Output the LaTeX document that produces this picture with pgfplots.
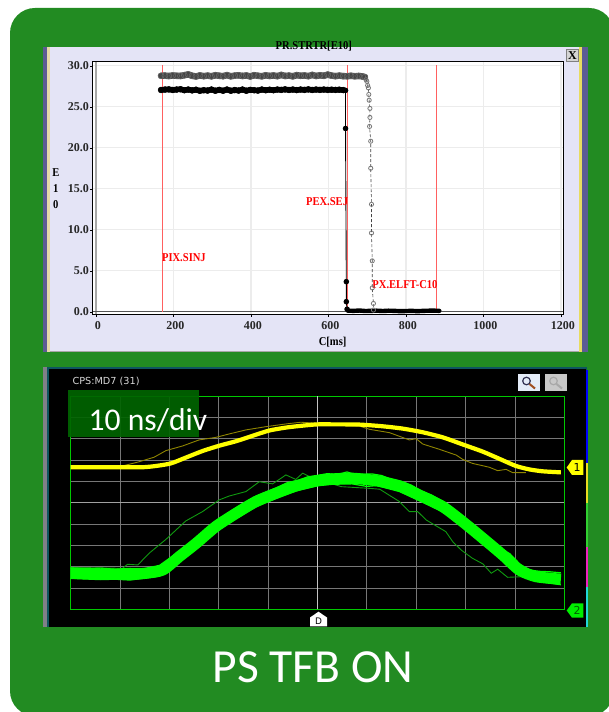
\documentclass[border=0pt]{standalone}
\usepackage{fontspec}
\setmainfont{Carlito}
\newfontfamily\plotfont{Liberation Serif}
\newfontfamily\labelfont[FakeStretch=0.88]{Liberation Serif}
\newfontfamily\scopefont{DejaVu Sans}
\usepackage{pgfplots}
\pgfplotsset{compat=1.18}
\definecolor{slidegreen}{HTML}{228B22}
\definecolor{lav}{HTML}{E4E4F6}
\definecolor{boxgreen}{HTML}{006400}
\definecolor{plotred}{HTML}{FF6060}
\definecolor{bandgrey}{HTML}{444444}
\definecolor{thinyellow}{HTML}{8F8500}
\definecolor{thingreen}{HTML}{109A10}
\definecolor{scopegrid}{HTML}{777777}
\definecolor{stripe}{HTML}{5C5C94}
\definecolor{cream}{HTML}{E6D9A8}
\definecolor{creamy}{HTML}{E8DC60}
\definecolor{closebtn}{HTML}{D4D4D4}
\definecolor{greystrip}{HTML}{808088}
\definecolor{teal1}{HTML}{0E5560}
\definecolor{stripy}{HTML}{E8DC20}
\definecolor{stripg}{HTML}{30D030}
\definecolor{stripm}{HTML}{F020C0}
\definecolor{stripc}{HTML}{20D8D8}
\definecolor{gridlight}{HTML}{ECECEC}
\definecolor{zerov}{HTML}{A8A8A8}
\definecolor{zeroh}{HTML}{555555}
\definecolor{markA}{HTML}{666666}
\definecolor{markdrop}{HTML}{777777}
\definecolor{scopebox}{HTML}{00C800}
\definecolor{centerline}{HTML}{C4C4C4}
\definecolor{midline}{HTML}{A0A0A0}
\definecolor{tyellow}{HTML}{FFFF00}
\definecolor{tgreen}{HTML}{00FF00}
\definecolor{scopetext}{HTML}{D8D8D8}
\definecolor{chtwo}{HTML}{00EE00}
\definecolor{chtwotext}{HTML}{006000}
\definecolor{btnon}{HTML}{E4ECF8}
\definecolor{lens}{HTML}{303050}
\definecolor{handle}{HTML}{A05020}
\definecolor{btnoff}{HTML}{C8C8C8}
\definecolor{lensoff}{HTML}{A8A8A8}
\newcommand{\ticklabel}{\fontsize{12}{12}\plotfont\bfseries}
\newcommand{\plotlabel}{\fontsize{12}{16}\labelfont\bfseries}

% top plot: intensity in E10 against cycle time in ms
\pgfplotstableread{
x y
168 28.78
178 28.80
188 28.75
198 28.82
208 28.78
218 28.76
228 28.85
238 28.95
248 28.78
258 28.70
268 28.82
278 28.74
288 28.80
298 28.72
308 28.85
318 28.78
328 28.74
338 28.86
348 28.72
358 28.80
368 28.84
378 28.76
388 28.82
398 28.70
408 28.85
418 28.78
428 28.72
438 28.84
448 28.76
458 28.82
468 28.74
478 28.88
488 28.76
498 28.80
508 28.72
518 28.86
528 28.78
538 28.82
548 28.74
558 28.88
568 28.76
578 28.84
588 28.78
598 28.92
608 28.80
618 28.74
628 28.80
638 28.74
648 28.72
658 28.78
668 28.72
678 28.76
688 28.70
694 28.62
}\bandA
\pgfplotstableread{
x y
697 28.30
699 28.10
701 27.60
703 27.30
704 26.50
705 25.80
707 24.80
707 23.70
706 22.60
709 20.80
709 17.50
711 13.10
711 9.60
713 6.20
713 2.90
716 1.00
716 0.20
}\dropA
\pgfplotstableread{
x y
168 27.05
178 27.10
188 27.12
198 27.05
208 27.10
218 27.14
228 27.02
238 27.10
248 27.00
258 27.08
268 26.95
278 27.02
288 26.98
298 27.10
308 26.96
318 27.06
328 26.96
338 27.10
348 26.96
358 27.04
368 26.98
378 27.10
388 26.96
398 27.06
408 27.02
418 26.98
428 27.10
438 27.02
448 27.08
458 27.02
468 27.10
478 27.06
488 27.12
498 27.05
508 27.10
518 27.04
528 27.10
538 27.06
548 27.12
558 27.05
568 27.10
578 27.06
588 27.10
598 27.06
608 27.08
618 27.06
628 27.08
638 27.04
}\bandB
\pgfplotstableread{
x y
644 27.00
644 22.35
646 3.66
646 1.22
648 0.30
}\dropB
\pgfplotstableread{
x y
650 0.12
665 0.10
680 0.14
695 0.08
710 0.10
725 0.12
740 0.08
755 0.12
770 0.10
785 0.06
800 0.08
815 0.10
830 0.06
845 0.10
860 0.12
875 0.12
886 0.10
}\tailB

% bottom plot: scope traces, x in ns, y in divisions from the bottom
\pgfplotstableread{
x y
-50.1 6.66
-39.5 6.66
-35.4 6.66
-32.7 6.72
-29.7 6.84
-26.7 7.11
-23.3 7.42
-19.9 7.67
-16.5 7.88
-13.2 8.13
-9.8 8.38
-6.4 8.52
-3.0 8.61
0 8.67
3.1 8.67
8.5 8.66
13.2 8.58
17.3 8.47
21.3 8.30
25.4 8.06
29.4 7.73
33.5 7.39
36.8 7.06
40.2 6.72
42.9 6.56
45.6 6.47
49.3 6.42
}\yellowthick
\pgfplotstableread{
x y
-39.5 6.72
-36.1 6.92
-33.1 7.13
-30.7 7.44
-27.3 7.66
-24.0 7.94
-20.6 8.06
-17.9 8.22
-14.5 8.41
-10.5 8.56
-6.4 8.69
-3.4 8.77
0 8.72
2.4 8.69
8.5 8.59
10.5 8.44
14.6 8.28
18.6 7.94
20.0 8.00
21.3 7.75
24.7 7.50
28.1 7.23
29.4 7.03
31.4 6.84
34.8 6.66
36.5 6.50
38.2 6.56
39.5 6.41
42.2 6.41
}\yellowthin
\pgfplotstableread{
x y
-50.1 1.69
-42.8 1.64
-36.1 1.66
-31.4 1.84
-28.0 2.47
-24.6 3.09
-20.6 3.88
-16.5 4.50
-12.5 5.05
-8.4 5.44
-4.4 5.78
0 6.03
3.1 6.11
7.2 6.14
11.9 6.03
16.6 5.78
21.3 5.28
25.4 4.81
29.4 4.11
33.5 3.33
37.5 2.55
40.9 1.84
44.3 1.53
49.3 1.41
}\greenthick
% upper and lower rough edges of the green persistence band
\pgfplotstableread{
x y
-50 1.94
-47 1.90
-44 1.93
-41 1.88
-38 1.92
-35 1.91
-32 2.06
-28 2.72
-24.6 3.34
-20.6 4.13
-16.5 4.75
-12.5 5.30
-8.4 5.69
-6 5.95
-4 6.04
-2 6.21
0 6.28
2 6.36
4 6.32
6 6.44
7 6.36
9 6.33
11 6.35
13 6.27
15 6.09
17 6.00
19 5.82
21 5.55
23 5.37
25.4 5.06
29.4 4.36
33.5 3.58
37.5 2.80
39 2.60
41 2.12
43 1.84
45 1.78
47 1.76
49.3 1.71
}\greenupper
\pgfplotstableread{
x y
-50 1.45
-47 1.42
-44 1.39
-41 1.41
-38 1.37
-35 1.46
-32 1.55
-28 2.22
-24.6 2.84
-20.6 3.63
-16.5 4.25
-12.5 4.80
-8.4 5.20
-4.4 5.55
0 5.79
3 5.86
7 5.88
10 5.76
12 5.80
16.6 5.52
21.3 5.02
25.4 4.56
29.4 3.86
33.5 3.08
37.5 2.30
40.9 1.64
44 1.33
47 1.23
49.3 1.15
}\greenlower
\pgfplotstableread{
x y
-50.1 1.97
-39.5 1.92
-38.5 2.11
-36.4 2.08
-34.1 2.63
-30.7 3.28
-26.7 4.14
-23.3 4.58
-19.9 5.13
-17.9 5.31
-14.5 5.52
-11.8 5.98
-9.1 5.88
-6.4 6.30
-4.4 6.09
-3.0 6.38
-1.3 6.19
4.8 5.75
10.5 5.67
12.6 5.63
16.6 5.05
18.6 4.58
20.3 4.58
22.0 4.19
26.0 3.64
27.4 3.17
29.1 2.78
31.4 2.39
33.5 2.13
35.2 1.69
36.5 1.88
38.5 1.50
41.6 1.53
}\greenthin

\begin{document}
\begin{tikzpicture}[x=1pt,y=1pt]
% page and slide background, coordinates are pixels with y measured from the bottom
\useasboundingbox (0,0) rectangle (609,712);
\fill[white] (0,0) rectangle (609,712);
\begin{scope}
\clip (0,0) rectangle (609,712);
\fill[slidegreen,rounded corners=25pt] (10,-4) rectangle (614,704);
\end{scope}

% window frame of the top plot
\fill[lav] (50,360) rectangle (579,665);
\fill[gray!70] (50,360) rectangle (579,361.2);
\fill[stripe] (42.5,360) rectangle (47,665);
\fill[cream] (47,360) rectangle (50,665);
\fill[creamy] (579,360) rectangle (581.5,665);
\fill[stripe] (581.5,360) rectangle (588,665);
\fill[closebtn,draw=gray] (566.5,650.5) rectangle (578.5,662.5);
\node[font=\ticklabel,inner sep=0pt] at (572.5,656.5) {X};

% window frame of the scope
\fill[greystrip] (42.5,85) rectangle (46.5,345);
\fill[teal1] (46.5,85) rectangle (587,345);
\fill[black] (49,85) rectangle (586,343);
\fill[blue] (586,249) rectangle (587.7,342);
\fill[stripy] (586,209) rectangle (587.7,249);
\fill[stripg] (586,165) rectangle (587.7,209);
\fill[stripm] (586,125) rectangle (587.7,165);
\fill[stripc] (586,85) rectangle (587.7,125);

% top plot
\begin{axis}[
    at={(92.5pt,397.7pt)}, anchor=south west,
    width=470.8pt, height=252.6pt, scale only axis,
    xmin=-9, xmax=1206,
    ymin=-0.32, ymax=30.5,
    xtick={0,200,400,600,800,1000,1200},
    ytick={0,5,10,15,20,25,30},
    tick align=outside,
    major tick length=2.5pt,
    tick style={black},
    xtick pos=lower, ytick pos=left,
    grid=major,
    grid style={gridlight,line width=1.2pt},
    axis line style={black,line width=0.9pt},
    axis background/.style={fill=white},
    clip=false,
    ticklabel style={font=\ticklabel,text=black!85},
    /pgf/number format/assume math mode=true,
    scaled ticks=false,
    yticklabel style={/pgf/number format/fixed,/pgf/number format/fixed zerofill,/pgf/number format/precision=1,inner sep=0pt,xshift=-1pt},
    xticklabel style={/pgf/number format/fixed,/pgf/number format/set thousands separator={},inner sep=0pt,yshift=-5pt,xshift=2pt},
    title={PR.STRTR[E10]},
    title style={font=\plotlabel,at={(axis description cs:0.47,1)},anchor=south,inner sep=0pt,yshift=4pt},
    xlabel={C[ms]},
    xlabel style={font=\plotlabel,at={(axis description cs:0.51,0)},anchor=north,inner sep=0pt,yshift=-23pt},
    ylabel={E\\1\\0},
    ylabel style={font=\plotlabel,rotate=-90,align=center,at={(axis description cs:-0.078,0.496)},anchor=center,inner sep=0pt},
]
\addplot[zerov,line width=1.2pt,forget plot] coordinates {(0,-0.32)(0,30.5)};
\addplot[zeroh,line width=0.7pt,forget plot] coordinates {(-9,0)(1206,0)};

% markers for the ejection and injection timings
\addplot[plotred,line width=1.2pt] coordinates {(171,0)(171,30.05)};
\addplot[plotred,line width=1.2pt] coordinates {(650,0)(650,30.05)};
\addplot[plotred,line width=1.2pt] coordinates {(879,0)(879,30.05)};

% series with extraction at 700 ms
\addplot[bandgrey,line width=6.4pt,line cap=round,mark=o,mark size=3pt,mark options={solid,markA,line width=0.6pt}] table[x=x,y=y] {\bandA};
\addplot[bandgrey,densely dashed,line width=0.6pt,mark=o,mark size=2.1pt,mark options={solid,markdrop,line width=0.8pt}] table[x=x,y=y] {\dropA};

% series with extraction at 645 ms
\addplot[black,line width=5.6pt,line cap=round,mark=*,mark size=3pt,mark options={solid,black,line width=0.4pt}] table[x=x,y=y] {\bandB};
\addplot[black,line width=0.9pt,mark=*,mark size=2.3pt,mark options={solid,black}] table[x=x,y=y] {\dropB};
\addplot[black,line width=4.4pt,line cap=round] table[x=x,y=y] {\tailB};

\node[font=\plotlabel,text=red,anchor=west,inner sep=0pt] at (axis cs:170,6.64) {PIX.SINJ};
\node[font=\plotlabel,text=red,anchor=east,inner sep=0pt] at (axis cs:651,13.4) {PEX.SEJ};
\node[font=\plotlabel,text=red,anchor=west,inner sep=0pt] at (axis cs:713,3.26) {PX.ELFT-C10};
\end{axis}

% bottom plot
\begin{axis}[
    at={(70.7pt,102.7pt)}, anchor=south west,
    width=493.6pt, height=213.3pt, scale only axis,
    xmin=-50, xmax=50,
    ymin=0, ymax=10,
    xtick={-40,-30,-20,-10,0,10,20,30,40},
    ytick={1,2,3,4,5,6,7,8,9},
    xticklabels={}, yticklabels={},
    major tick length=0pt,
    grid=major,
    grid style={scopegrid,line width=0.8pt},
    axis line style={scopebox,line width=0.9pt},
    clip=true,
]
\addplot[centerline,line width=0.9pt,forget plot] coordinates {(0,0)(0,10)};
\addplot[midline,line width=0.9pt,forget plot] coordinates {(-50,5)(50,5)};
\addplot[thinyellow,line width=0.9pt] table[x=x,y=y] {\yellowthin};
\addplot[thingreen,line width=0.9pt] table[x=x,y=y] {\greenthin};
\addplot[tyellow,line width=4.2pt,smooth,tension=0.4] table[x=x,y=y] {\yellowthick};
\addplot[tgreen,line width=1.2pt] table[x=x,y=y] {\greenupper};
\addplot[tgreen,line width=1.2pt] table[x=x,y=y] {\greenlower};
\addplot[tgreen,line width=11.2pt,smooth,tension=0.4] table[x=x,y=y] {\greenthick};
\end{axis}

% scope annotations
\node[font=\fontsize{9.7}{11}\scopefont,text=scopetext,anchor=west,inner sep=0pt] at (72.3,330.5) {CPS:MD7 (31)};
\fill[boxgreen,opacity=0.92] (68.3,275.3) rectangle (198.7,322);
\node[font=\fontsize{31.6}{32}\selectfont,text=white,anchor=base west,inner sep=0pt] at (88.5,281.5) {10 ns/div};

% channel markers
\fill[tyellow] (566.7,244.5) -- (572,252) -- (583.3,252) -- (583.3,237) -- (572,237) -- cycle;
\node[font=\fontsize{11}{11}\scopefont,text=black,inner sep=0pt] at (577,244.5) {1};
\fill[chtwo] (566.7,101.5) -- (572,108.7) -- (583.3,108.7) -- (583.3,94.3) -- (572,94.3) -- cycle;
\node[font=\fontsize{11}{11}\scopefont,text=chtwotext,inner sep=0pt] at (577,101.5) {2};
\fill[white] (318.5,100.3) -- (327,94.5) -- (327,85.5) -- (310,85.5) -- (310,94.5) -- cycle;
\node[font=\fontsize{9}{9}\scopefont,text=black,inner sep=0pt] at (318.5,91) {D};

% zoom buttons
\fill[btnon] (518,321) rectangle (540,338);
\draw[lens,line width=1.2pt] (526.5,331) circle (3.8pt);
\draw[handle,line width=2pt] (529.5,328) -- (535,323.5);
\fill[btnoff] (545.3,321) rectangle (567,338);
\draw[lensoff,line width=1.2pt] (553.5,331) circle (3.8pt);
\draw[lensoff,line width=2pt] (556.5,328) -- (562,323.5);

% slide caption
\node[font=\fontsize{47.5}{48}\selectfont,text=white,inner sep=0pt] at (313,45) {PS TFB ON};
\end{tikzpicture}
\end{document}
